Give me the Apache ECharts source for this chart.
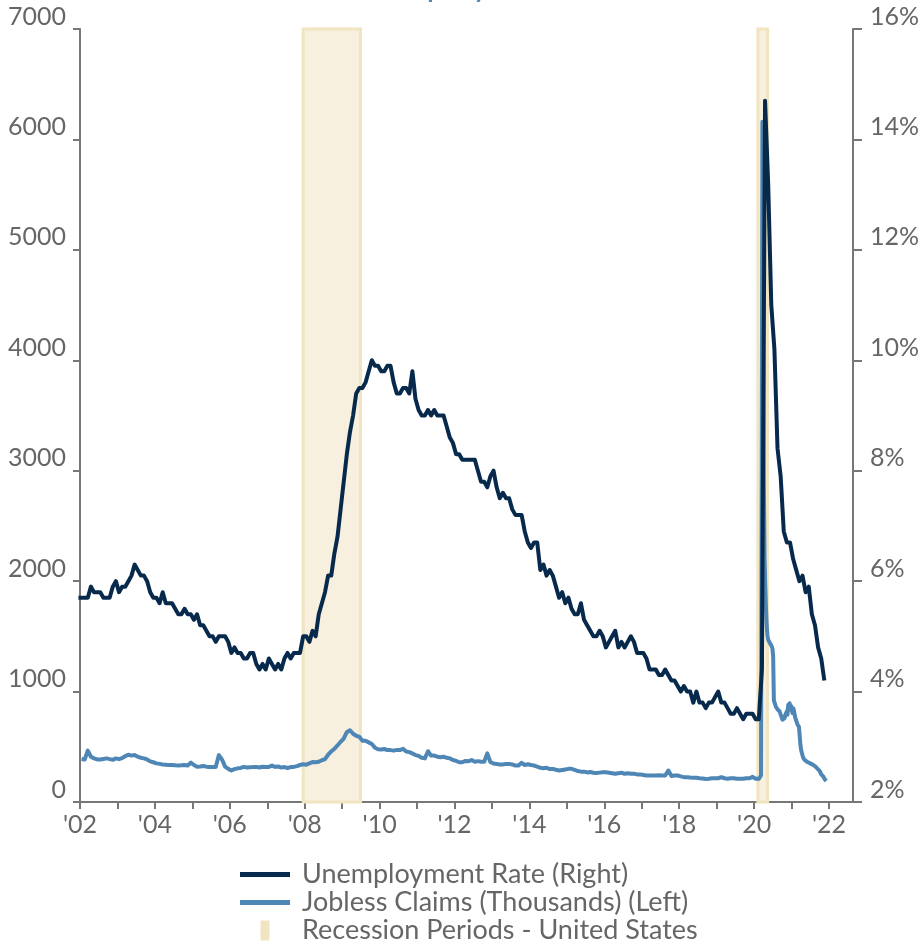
<!DOCTYPE html>
<html>
<head>
<meta charset="utf-8">
<title>Jobless Claims and Unemployment</title>
<script src="https://cdn.jsdelivr.net/npm/echarts@6/dist/echarts.min.js"></script>
<style>
  html, body { margin: 0; padding: 0; background: #ffffff; }
  #chart { width: 924px; height: 945px; }
</style>
</head>
<body>
<div id="chart"></div>
<script>
// Year ticks on the horizontal axis, labels every second year
const yearTicks = [2002, 2003, 2004, 2005, 2006, 2007, 2008, 2009, 2010, 2011, 2012,
  2013, 2014, 2015, 2016, 2017, 2018, 2019, 2020, 2021, 2022];
const yearLabels = [2002, 2004, 2006, 2008, 2010, 2012, 2014, 2016, 2018, 2020, 2022];

// Unemployment rate (%), monthly from December 2001, plotted at mid-month
const unemploymentStart = { year: 2001, month: 12 };
const unemploymentRate = [
  5.7,
  5.7, 5.7, 5.7, 5.9, 5.8, 5.8, 5.8, 5.7, 5.7, 5.7, 5.9, 6.0,
  5.8, 5.9, 5.9, 6.0, 6.1, 6.3, 6.2, 6.1, 6.1, 6.0, 5.8, 5.7,
  5.7, 5.6, 5.8, 5.6, 5.6, 5.6, 5.5, 5.4, 5.4, 5.5, 5.4, 5.4,
  5.3, 5.4, 5.2, 5.2, 5.1, 5.0, 5.0, 4.9, 5.0, 5.0, 5.0, 4.9,
  4.7, 4.8, 4.7, 4.7, 4.6, 4.6, 4.7, 4.7, 4.5, 4.4, 4.5, 4.4,
  4.6, 4.5, 4.4, 4.5, 4.4, 4.6, 4.7, 4.6, 4.7, 4.7, 4.7, 5.0,
  5.0, 4.9, 5.1, 5.0, 5.4, 5.6, 5.8, 6.1, 6.1, 6.5, 6.8, 7.3,
  7.8, 8.3, 8.7, 9.0, 9.4, 9.5, 9.5, 9.6, 9.8, 10.0, 9.9, 9.9,
  9.8, 9.8, 9.9, 9.9, 9.6, 9.4, 9.4, 9.5, 9.5, 9.4, 9.8, 9.3,
  9.1, 9.0, 9.0, 9.1, 9.0, 9.1, 9.0, 9.0, 9.0, 8.8, 8.6, 8.5,
  8.3, 8.3, 8.2, 8.2, 8.2, 8.2, 8.2, 8.0, 7.8, 7.8, 7.7, 7.9,
  8.0, 7.7, 7.5, 7.6, 7.5, 7.5, 7.3, 7.2, 7.2, 7.2, 6.9, 6.7,
  6.6, 6.7, 6.7, 6.2, 6.3, 6.1, 6.2, 6.1, 5.9, 5.7, 5.8, 5.6,
  5.7, 5.5, 5.4, 5.4, 5.6, 5.3, 5.2, 5.1, 5.0, 5.0, 5.1, 5.0,
  4.8, 4.9, 5.0, 5.1, 4.8, 4.9, 4.8, 4.9, 5.0, 4.9, 4.7, 4.7,
  4.7, 4.6, 4.4, 4.4, 4.4, 4.3, 4.3, 4.4, 4.3, 4.2, 4.2, 4.1,
  4.0, 4.1, 4.0, 4.0, 3.8, 4.0, 3.8, 3.8, 3.7, 3.8, 3.8, 3.9,
  4.0, 3.8, 3.8, 3.7, 3.6, 3.6, 3.7, 3.6, 3.5, 3.6, 3.6, 3.6,
  3.5, 3.5, 4.4, 14.7, 13.2, 11.0, 10.2, 8.4, 7.9, 6.9, 6.7, 6.7,
  6.4, 6.2, 6.0, 6.1, 5.8, 5.9, 5.4, 5.2, 4.8, 4.6, 4.2
];

// Initial jobless claims (thousands), monthly level from January 2002 to February 2020
const claimsMonthlyStartYear = 2002;
const claimsMonthly = [
  390, 385, 465, 410, 395, 385, 385, 390, 395, 388, 382, 395,
  388, 398, 415, 428, 420, 425, 410, 400, 395, 385, 368, 360,
  350, 345, 340, 338, 334, 336, 332, 330, 332, 335, 330, 356,
  335, 320, 322, 326, 320, 318, 316, 316, 425, 385, 320, 300,
  285, 298, 305, 308, 318, 312, 315, 316, 318, 312, 320, 316,
  318, 330, 318, 322, 312, 316, 308, 316, 318, 325, 335, 342,
  338, 350, 362, 360, 365, 378, 388, 428, 458, 482, 512, 545,
  575, 632, 650, 618, 600, 590, 555, 555, 540, 525, 492, 478,
  475, 480, 470, 470, 465, 472, 470, 482, 458, 452, 440, 425,
  418, 400, 395, 460, 420, 420, 410, 405, 410, 400, 395, 380,
  372, 360, 360, 372, 370, 380, 365, 370, 365, 365, 440, 362,
  348, 345, 340, 340, 345, 345, 340, 330, 330, 355, 335, 342,
  335, 330, 320, 310, 305, 310, 298, 300, 292, 285, 290, 295,
  300, 300, 290, 280, 275, 275, 268, 272, 265, 262, 266, 270,
  270, 265, 260, 255, 260, 265, 255, 260, 255, 255, 250, 250,
  245, 240, 240, 240, 240, 242, 240, 240, 285, 235, 240, 240,
  232, 225, 225, 222, 220, 220, 215, 212, 208, 210, 215, 215,
  215, 225, 215, 210, 215, 215, 210, 210, 210, 215, 215, 228,
  210, 210
];

// Initial jobless claims (thousands), weekly from the week starting 2020-03-01
const claimsWeeklyStart = '2020-03-01';
const claimsWeekly = [
  215, 240, 2900, 6160,
  4500, 2900, 2200, 1950,
  1750, 1600, 1510, 1470, 1460,
  1445, 1430, 1440, 1410,
  1390, 1320, 920, 900,
  885, 860, 850, 840, 830,
  835, 820, 800, 790,
  765, 745, 750, 742, 760,
  790, 805, 820, 790,
  880, 850, 895, 840,
  870, 830, 805, 850, 830,
  790, 760, 745, 720,
  700, 690, 680, 600,
  520, 470, 445, 420,
  400, 385, 380, 375, 370,
  365, 375, 360, 355,
  370, 350, 345, 340, 345,
  335, 340, 330, 320,
  305, 310, 300, 290,
  285, 280, 265, 250, 245,
  240, 230, 215, 205,
  195, 190
];

// US recession periods (decimal years)
const recessionStart = [2007.96, 2020.1];
const recessionEnd = [2009.49, 2020.36];

const NAVY = '#072a4c';
const STEEL = '#4e86b6';
const BAND = '#f7f0de';
const BAND_EDGE = '#f1e4c1';
const TEXT = '#666666';
const AXIS = '#777777';
const FONT = "'Source Sans Pro', 'Lato', sans-serif";
const LINE_ICON = 'path://M0,0H50V5H0Z';
const BAND_ICON = 'path://M0,0H9V20H0Z';

function dateToYear(ms) {
  const d = new Date(ms);
  const y = d.getUTCFullYear();
  const a = Date.UTC(y, 0, 1);
  const b = Date.UTC(y + 1, 0, 1);
  return y + (ms - a) / (b - a);
}

const unemploymentData = unemploymentRate.map((v, i) => [
  unemploymentStart.year + (unemploymentStart.month - 1 + i + 0.5) / 12, v
]);

const claimsData = claimsMonthly.map((v, i) => [claimsMonthlyStartYear + (i + 0.5) / 12, v]);
const weekMs = 7 * 24 * 3600 * 1000;
const weekStartMs = Date.parse(claimsWeeklyStart + 'T00:00:00Z');
claimsWeekly.forEach((v, i) => {
  claimsData.push([dateToYear(weekStartMs + i * weekMs), v]);
});

const recessionAreas = recessionStart.map((s, i) => [{ xAxis: s }, { xAxis: recessionEnd[i] }]);

const chart = echarts.init(document.getElementById('chart'), null, { renderer: 'canvas' });

chart.setOption({
  animation: false,
  backgroundColor: '#ffffff',
  title: {
    text: 'Unemployment',
    left: 332,
    top: -37,
    textStyle: { color: STEEL, fontSize: 34, fontWeight: 'normal', fontFamily: FONT }
  },
  grid: { left: 80, right: 71, top: 29, bottom: 143, containLabel: false },
  legend: {
    orient: 'vertical',
    left: 240,
    top: 861,
    height: 110,
    padding: 0,
    itemWidth: 50,
    itemHeight: 20,
    itemGap: 1,
    selectedMode: false,
    textStyle: { color: TEXT, fontSize: 27, lineHeight: 20, fontFamily: FONT, padding: [0, 0, 0, 7] },
    data: [
      { name: 'Unemployment Rate (Right)', icon: LINE_ICON, itemStyle: { color: NAVY } },
      { name: 'Jobless Claims (Thousands) (Left)', icon: LINE_ICON, itemStyle: { color: STEEL } },
      { name: 'Recession Periods - United States', icon: BAND_ICON, itemStyle: { color: BAND_EDGE } }
    ]
  },
  xAxis: {
    type: 'value',
    min: 2002,
    max: 2022.64,
    interval: 1,
    splitLine: { show: false },
    axisLine: { show: true, lineStyle: { color: AXIS, width: 2 } },
    axisTick: { show: true, length: 7, lineStyle: { color: AXIS, width: 2 }, customValues: yearTicks },
    axisLabel: {
      customValues: yearLabels,
      color: TEXT,
      fontSize: 25,
      fontFamily: FONT,
      margin: 10,
      formatter: function (v) {
        if (Math.abs(v - Math.round(v)) > 1e-6 || Math.round(v) % 2 !== 0) return '';
        return "'" + String(Math.round(v)).slice(2);
      }
    }
  },
  yAxis: [
    {
      type: 'value',
      position: 'left',
      min: 0,
      max: 7000,
      interval: 1000,
      splitLine: { show: false },
      axisLine: { show: true, lineStyle: { color: AXIS, width: 2 } },
      axisTick: { show: true, length: 7, lineStyle: { color: AXIS, width: 2 } },
      axisLabel: {
        color: TEXT, fontSize: 25, fontFamily: FONT, margin: 14, verticalAlign: 'bottom',
        formatter: function (v) { return String(v); }
      }
    },
    {
      type: 'value',
      position: 'right',
      min: 2,
      max: 16,
      interval: 2,
      splitLine: { show: false },
      axisLine: { show: true, lineStyle: { color: AXIS, width: 2 } },
      axisTick: { show: true, length: 9, lineStyle: { color: AXIS, width: 2 } },
      axisLabel: {
        color: TEXT, fontSize: 25, fontFamily: FONT, margin: 17, verticalAlign: 'bottom',
        formatter: function (v) { return String(v) + '%'; }
      }
    }
  ],
  series: [
    {
      name: 'Recession Periods - United States',
      type: 'line',
      data: [],
      z: 1,
      itemStyle: { color: BAND_EDGE },
      markArea: {
        silent: true,
        itemStyle: { color: BAND, borderColor: BAND_EDGE, borderWidth: 3 },
        data: recessionAreas
      }
    },
    {
      name: 'Jobless Claims (Thousands) (Left)',
      type: 'line',
      yAxisIndex: 0,
      data: claimsData,
      symbol: 'none',
      showSymbol: false,
      clip: true,
      z: 2,
      itemStyle: { color: STEEL },
      lineStyle: { color: STEEL, width: 4, join: 'round' }
    },
    {
      name: 'Unemployment Rate (Right)',
      type: 'line',
      yAxisIndex: 1,
      data: unemploymentData,
      symbol: 'none',
      showSymbol: false,
      clip: true,
      z: 3,
      itemStyle: { color: NAVY },
      lineStyle: { color: NAVY, width: 4, join: 'round' }
    }
  ]
});
</script>
</body>
</html>
